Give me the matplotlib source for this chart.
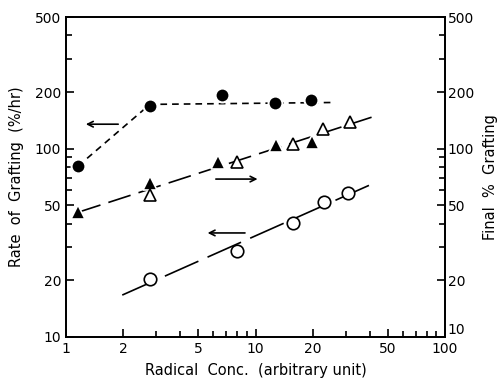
import matplotlib
matplotlib.use("Agg")
from matplotlib import pyplot as plt
from matplotlib.ticker import FixedLocator, NullFormatter

# rate of grafting, filled circles (left axis)
rateX = [1.16, 2.77, 6.66, 12.7, 19.6]
rateY = [81, 169, 193, 175, 181]
rateLineX = [1.16, 2.77, 25]
rateLineY = [81, 172, 176]

# final % grafting, triangles (right axis)
triFilledX = [1.16, 2.77, 6.34, 12.9, 19.8]
triFilledY = [46, 66, 85, 105, 109]
triOpenX = [2.77, 7.98, 15.8, 22.6, 31.5]
triOpenY = [57, 85, 106, 127, 139]
triLineX = [1.16, 42.7]
triLineY = [46, 149]

# open circles (left axis)
openX = [2.77, 7.98, 15.8, 23.0, 30.8]
openY = [20.3, 28.6, 40.5, 52.3, 58]
openLineX = [1.98, 42.7]
openLineY = [16.7, 66]

yTicks = [10, 20, 50, 100, 200, 500]
xTicks = [1, 2, 5, 10, 20, 50, 100]

fig = plt.figure(figsize=(5.04, 3.81), dpi=100)
ax = fig.add_axes([0.131, 0.1155, 0.752, 0.8395])
ax.set_xscale('log')
ax.set_yscale('log')
ax.set_xlim(1, 100)
ax.set_ylim(10, 500)

ax.plot(rateLineX, rateLineY, color='k', lw=1.2, ls=(0, (4, 3)))
ax.plot(triLineX, triLineY, color='k', lw=1.2, ls=(0, (14, 5)))
ax.plot(openLineX, openLineY, color='k', lw=1.2, ls=(0, (22, 6)))

ax.plot(rateX, rateY, 'o', ms=10, mfc='k', mec='white', mew=1.5)
ax.plot(triFilledX, triFilledY, '^', ms=10, mfc='k', mec='white', mew=1.2)
ax.plot(triOpenX, triOpenY, '^', ms=9, mfc='white', mec='k', mew=1.2)
ax.plot(openX, openY, 'o', ms=9, mfc='white', mec='k', mew=1.2)

arrow = dict(arrowstyle='->', color='k', lw=1.2)
ax.annotate('', xy=(1.23, 135), xytext=(1.95, 135), arrowprops=arrow)
ax.annotate('', xy=(10.6, 69), xytext=(5.97, 69), arrowprops=arrow)
ax.annotate('', xy=(5.4, 35.7), xytext=(9.1, 35.7), arrowprops=arrow)

minY = [30, 40, 60, 70, 80, 90, 300, 400]
ax.yaxis.set_major_locator(FixedLocator(yTicks))
ax.set_yticklabels([str(v) for v in yTicks])
ax.yaxis.set_minor_locator(FixedLocator(minY))
ax.yaxis.set_minor_formatter(NullFormatter())
ax.xaxis.set_major_locator(FixedLocator(xTicks))
ax.set_xticklabels([str(v) for v in xTicks])
minX = [3, 4, 6, 7, 8, 9, 30, 40, 60, 70, 80, 90]
ax.xaxis.set_minor_locator(FixedLocator(minX))
ax.xaxis.set_minor_formatter(NullFormatter())

ax.tick_params(which='both', direction='in', labelsize=10, width=1.2, top=False, right=True)
ax.tick_params(which='major', length=6)
ax.tick_params(which='minor', length=4)

ax2 = ax.twinx()
ax2.set_yscale('log')
ax2.set_ylim(10, 500)
ax2.yaxis.set_major_locator(FixedLocator(yTicks))
ax2.set_yticklabels([str(v) for v in yTicks])
ax2.yaxis.set_minor_locator(FixedLocator(minY))
ax2.yaxis.set_minor_formatter(NullFormatter())
ax2.tick_params(which='both', direction='in', labelsize=10, width=1.2, pad=2)
ax2.tick_params(which='major', length=6)
ax2.tick_params(which='minor', length=4)
# lift the bottom right label off the "100" below it
lbl = ax2.get_yticklabels()[0]
lbl.set_va('bottom')

for a in (ax, ax2):
    for s in a.spines.values():
        s.set_linewidth(1.3)

ax.set_xlabel('Radical  Conc.  (arbitrary unit)', fontsize=10.5, labelpad=5)
ax.set_ylabel('Rate  of  Grafting  (%/hr)', fontsize=10.5, labelpad=8)
ax2.set_ylabel('Final  %  Grafting', fontsize=10.5, labelpad=6)

plt.savefig('out.png', dpi=100)
